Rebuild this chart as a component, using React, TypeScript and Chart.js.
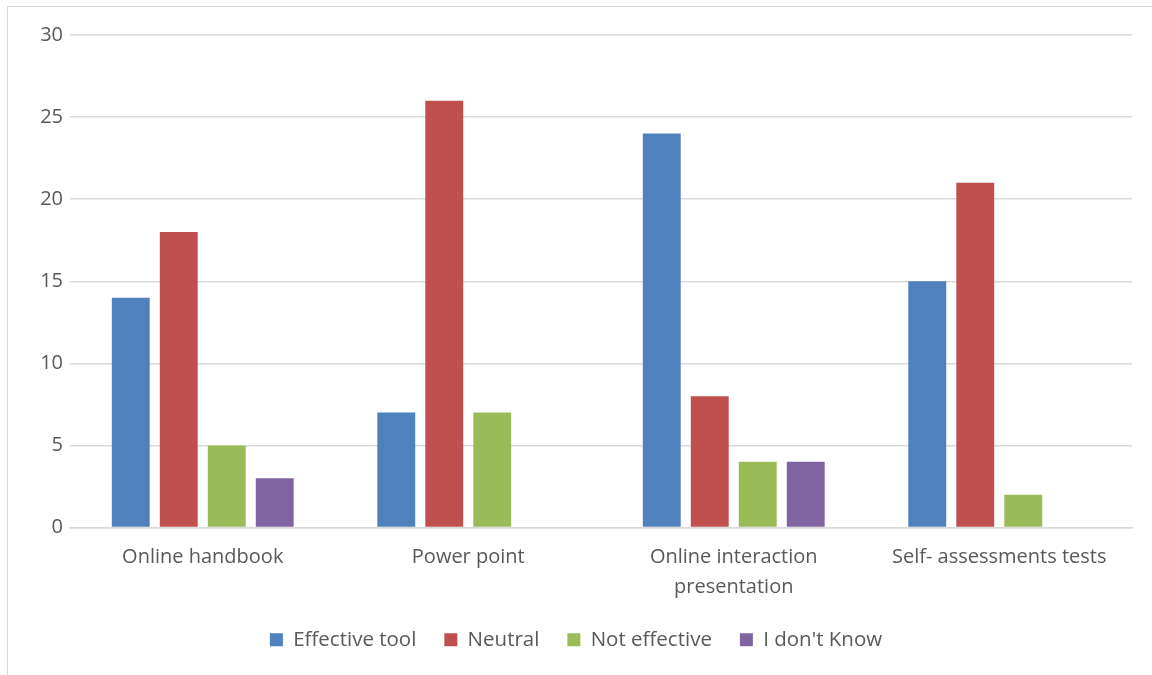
import React, { useEffect, useRef } from "react";
import { Chart, registerables } from "chart.js";

Chart.register(...registerables);

const categories: (string | string[])[] = [
  "Online handbook",
  "Power point",
  ["Online interaction", "presentation"],
  "Self- assessments tests",
];
const effectiveTool = [14, 7, 24, 15];
const neutral = [18, 26, 8, 21];
const notEffective = [5, 7, 4, 2];
const dontKnow = [3, 0, 4, 0];
const yTicks = [0, 5, 10, 15, 20, 25, 30];

const FONT = "'Open Sans', 'Liberation Sans', sans-serif";
const TEXT = "#595959";

export default function App() {
  const ref = useRef<HTMLCanvasElement | null>(null);
  useEffect(() => {
    if (!ref.current) return;
    const chart = new Chart(ref.current, {
      type: "bar",
      data: {
        labels: categories,
        datasets: [
          { label: "Effective tool", data: effectiveTool, backgroundColor: "#4F81BD" },
          { label: "Neutral", data: neutral, backgroundColor: "#C0504D" },
          { label: "Not effective", data: notEffective, backgroundColor: "#9BBB59" },
          { label: "I don't Know", data: dontKnow, backgroundColor: "#8064A2" },
        ],
      },
      options: {
        animation: false,
        responsive: false,
        maintainAspectRatio: false,
        datasets: { bar: { categoryPercentage: 0.723, barPercentage: 0.79 } },
        layout: { padding: { left: 20, right: 20, top: 35, bottom: 15 } },
        plugins: {
          tooltip: { enabled: false },
          legend: {
            position: "bottom",
            labels: {
              font: { family: FONT, size: 20.5 },
              color: TEXT,
              boxWidth: 13,
              boxHeight: 13,
              padding: 28,
            },
          },
        },
        scales: {
          x: {
            grid: { display: false, drawTicks: false },
            border: { color: "#d9d9d9", width: 1.5 },
            ticks: {
              font: { family: FONT, size: 20, lineHeight: 1.5 },
              color: TEXT,
              padding: 15,
              maxRotation: 0,
              autoSkip: false,
            },
            afterFit: (s: any) => {
              s.height = 74;
            },
          },
          y: {
            min: 0,
            max: 30,
            afterBuildTicks: (s: any) => {
              s.ticks = yTicks.map((v) => ({ value: v }));
            },
            grid: { color: "#d9d9d9", lineWidth: 1.5, drawTicks: false },
            border: { display: false },
            ticks: {
              font: { family: FONT, size: 20 },
              color: TEXT,
              padding: 7,
            },
            afterFit: (s: any) => {
              s.width = 50;
            },
          },
        },
      },
    });
    return () => chart.destroy();
  }, []);
  return (
    <div style={{ position: "fixed", left: 0, top: 0, width: 1152, height: 675, background: "#fff" }}>
      <div
        style={{
          position: "absolute",
          left: 7,
          top: 6,
          width: 1150,
          height: 680,
          border: "1.5px solid #d9d9d9",
          boxSizing: "border-box",
        }}
      />
      <canvas ref={ref} width={1152} height={675} style={{ position: "absolute", left: 0, top: 0 }} />
    </div>
  );
}
